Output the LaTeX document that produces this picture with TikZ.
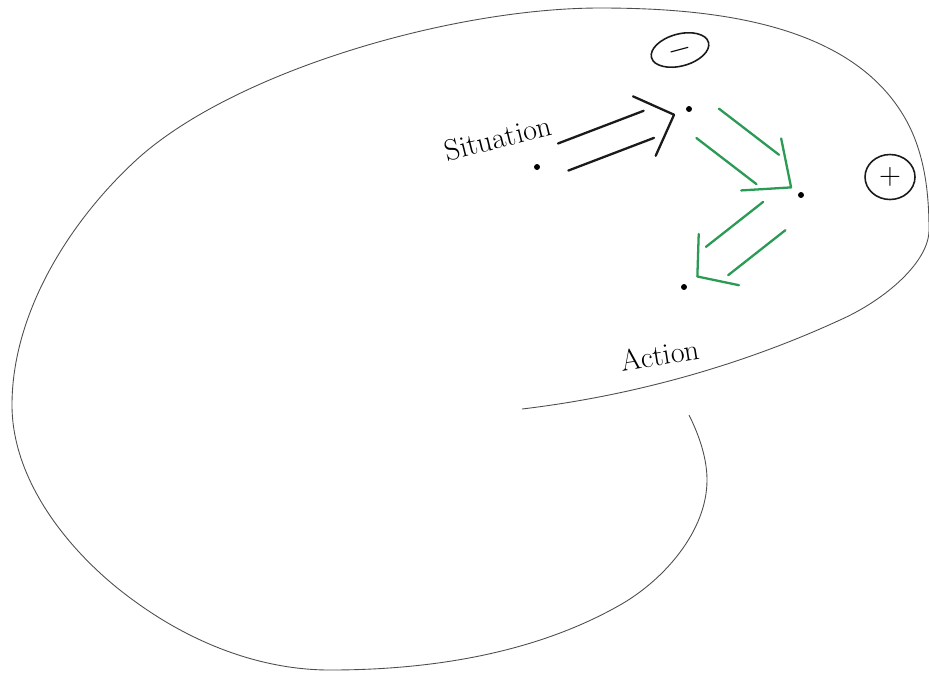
\documentclass[tikz,border=0pt]{standalone}
\usepackage{tikz}
\usetikzlibrary{arrows.meta,positioning,calc,shapes.geometric}
\definecolor{PenGreen}{HTML}{2A9A55}
\definecolor{PenBlack}{HTML}{1A1A1A}
\definecolor{RimGray}{HTML}{4D4D4D}
\tikzset{
  spot/.style={circle, fill=black, inner sep=0pt, minimum size=3.4pt},
  rim/.style={draw=RimGray, line width=0.5pt},
  hand/.style={font=\fontsize{17}{19}\selectfont, inner sep=1pt},
  sign/.style={draw=PenBlack, ellipse, line width=0.9pt, inner sep=0pt,
               font=\fontsize{16}{18}\selectfont},
  pen/.style={line width=1.3pt, line join=round, line cap=round}
}

\begin{document}
\begin{tikzpicture}[x=0.02cm, y=-0.02cm]
\fill[white] (0,0) rectangle (929,674);
\useasboundingbox (0,0) rectangle (929,674);
\draw[rim] (689,415) .. controls (699,435) and (707,458) .. (707,480)
  .. controls (707,531) and (664,580) .. (620,605)
  .. controls (534,654) and (429,670) .. (330,670)
  .. controls (259,670) and (190,642) .. (133,600)
  .. controls (71,555) and (12,482) .. (12,405)
  .. controls (12,315) and (67,225) .. (133,163)
  .. controls (228,73) and (450,8) .. (600,8)
  .. controls (706,8) and (842,21) .. (900,110)
  .. controls (924,146) and (929,190) .. (929,230)
  .. controls (929,262) and (885,300) .. (840,320)
  .. controls (740,366) and (631,396) .. (522,409);
\node[spot] (sit) at (537,167) {};
\node[spot] (neg) at (689,109) {};
\node[spot] (pos) at (801,195) {};
\node[spot] (act) at (684,287) {};
\node[hand, rotate=14] (sitlabel) at (498,138) {Situation};
\node[hand, rotate=9] (actlabel) at (660,355) {Action};
\node[sign, minimum width=1.18cm, minimum height=0.64cm, rotate=15] (minus) at (680,50) {$-$};
\node[sign, minimum width=1.0cm, minimum height=0.9cm] (plus) at (890,177) {$+$};
\coordinate (b0) at ($(sit)!0.56cm!(neg)$);
\coordinate (b1) at ($(neg)!0.86cm!(sit)$);
\coordinate (g0) at ($(neg)!0.47cm!(pos)$);
\coordinate (g1) at ($(pos)!0.84cm!(neg)$);
\coordinate (h0) at ($(pos)!0.68cm!(act)$);
\coordinate (h1) at ($(act)!0.84cm!(pos)$);
\draw[pen, PenBlack] ($(b0)!0.29cm!90:(b1)$) -- ($(b1)!0.29cm!-90:(b0)$);
\draw[pen, PenBlack] ($(b0)!0.29cm!-90:(b1)$) -- ($(b1)!0.29cm!90:(b0)$);
\draw[pen, PenGreen] ($(g0)!0.37cm!90:(g1)$) -- ($(g1)!0.37cm!-90:(g0)$);
\draw[pen, PenGreen] ($(g0)!0.37cm!-90:(g1)$) -- ($(g1)!0.37cm!90:(g0)$);
\draw[pen, PenGreen] ($(h0)!0.36cm!90:(h1)$) -- ($(h1)!0.36cm!-90:(h0)$);
\draw[pen, PenGreen] ($(h0)!0.36cm!-90:(h1)$) -- ($(h1)!0.36cm!90:(h0)$);
\coordinate (tipneg) at ($(neg)!0.32cm!(sit)$);
\coordinate (tippos) at ($(pos)!0.25cm!(neg)$);
\coordinate (tipact) at ($(act)!0.34cm!(pos)$);
\draw[pen, PenBlack] ($(tipneg)!0.9cm!45:(sit)$) -- (tipneg) -- ($(tipneg)!0.9cm!-45:(sit)$);
\draw[pen, PenGreen] ($(tippos)!1.0cm!41:(neg)$) -- (tippos) -- ($(tippos)!1.0cm!-41:(neg)$);
\draw[pen, PenGreen] ($(tipact)!0.85cm!50:(pos)$) -- (tipact) -- ($(tipact)!0.85cm!-50:(pos)$);
\end{tikzpicture}
\end{document}
